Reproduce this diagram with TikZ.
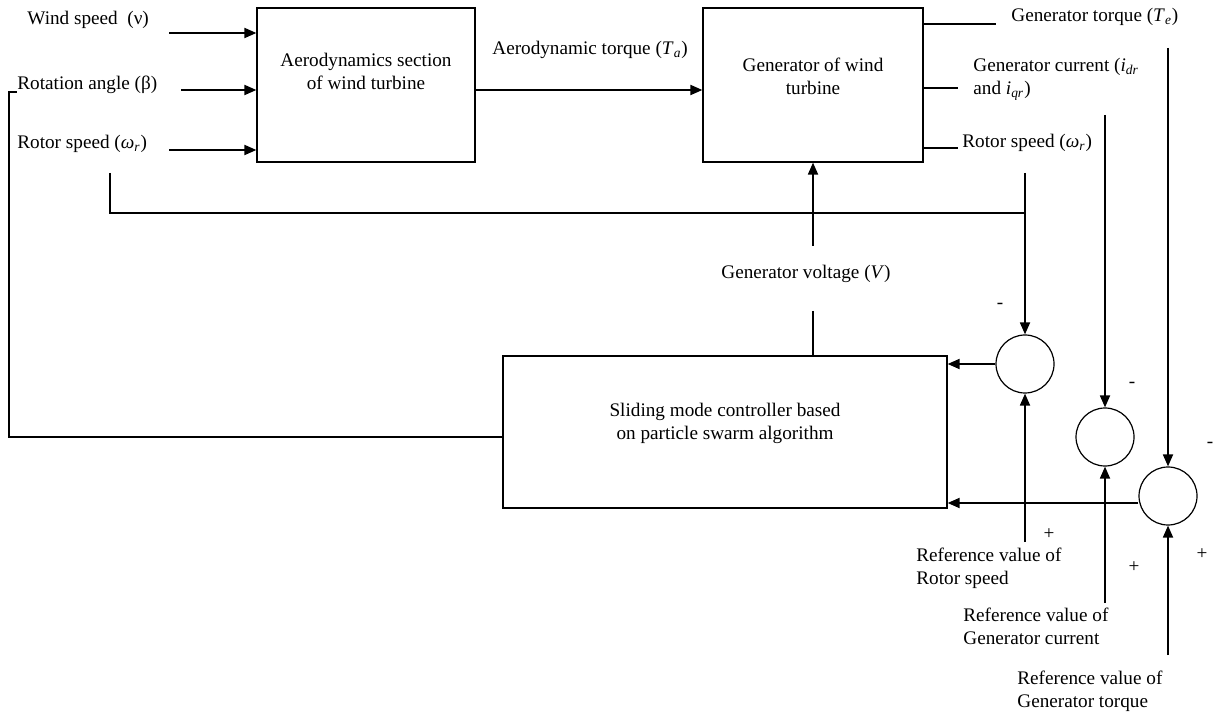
\documentclass[tikz,border=0pt]{standalone}
\usepackage{fontspec}
\setmainfont{Liberation Serif}
\usetikzlibrary{positioning, arrows.meta}

\newcommand{\vsub}[2]{\textit{#1}\textsubscript{\textit{#2}}}

\begin{document}
\begin{tikzpicture}[x=0.5pt, y=-0.5pt, font=\fontsize{9.6}{11.5}\selectfont,
    every block/.style={draw, line width=0.6pt, inner sep=0pt},
    every sum/.style={circle, draw, line width=0.6pt, minimum size=29pt, inner sep=0pt},
    sig/.style={line width=0.9pt},
    arr/.style={sig, -{Triangle[length=6pt, width=5pt]}},
    lbl/.style={inner sep=0pt, align=left, anchor=base west},
    txt/.style={inner sep=0pt, align=center, anchor=base}]

    \useasboundingbox (0,0) rectangle (1219,715);

    % Blocks (text anchored at the baseline of its last line)
    \node[every block, minimum width=109pt, minimum height=77pt] (A) at (366,85) {};
    \node[every block, minimum width=110pt, minimum height=77pt] (B) at (813,85) {};
    \node[every block, minimum width=222pt, minimum height=76pt] (C) at (725,432) {};
    \node[txt] (A-t) at (366,90) {Aerodynamics section\\of wind turbine};
    \node[txt] (B-t) at (813,95) {Generator of wind\\turbine};
    \node[txt] (C-t) at (725,439) {Sliding mode controller based\\on particle swarm algorithm};

    % Summing junctions
    \node[every sum] (S1) at (1025,364) {};
    \node[every sum] (S2) at (1105,437) {};
    \node[every sum] (S3) at (1168,496) {};

    % Inputs of the aerodynamics section
    \node[lbl] (L-wind) at (27,25) {Wind speed \ (ν)};
    \node[lbl] (L-beta) at (17,90) {Rotation angle (β)};
    \node[lbl] (L-rot) at (17,149) {Rotor speed (\vsub{ω}{r})};
    \coordinate (in-1) at (169,33);
    \coordinate (in-2) at (181,90);
    \coordinate (in-3) at (169,150);
    \foreach \i in {1, 2, 3}
        \draw[arr] (in-\i) -- (in-\i -| A.west);

    % Aerodynamic torque
    \node[lbl] (L-Ta) at (492,55) {Aerodynamic torque (\vsub{T}{a})};
    \draw[arr] ([yshift=-2.5pt]A.east) -- ([yshift=-2.5pt]B.west);

    % Outputs of the generator
    \node[lbl] (L-Te) at (1011,22) {Generator torque (\vsub{T}{e})};
    \node[lbl] (L-i) at (973,95) {Generator current (\vsub{i}{dr}\\and \vsub{i}{qr})};
    \node[lbl] (L-wr) at (962,148) {Rotor speed (\vsub{ω}{r})};
    \draw[sig] ([yshift=-8.5pt]B.north east) -- ++(72,0);
    \draw[sig] ([yshift=-40.5pt]B.north east) -- ++(34,0);
    \draw[sig] ([yshift=-70.5pt]B.north east) -- ++(34,0);

    % Feedback of rotor speed
    \coordinate (fb-0) at (110,173);
    \coordinate (fb-1) at (110,213);
    \coordinate (fb-2) at (1025,213);
    \coordinate (fb-3) at (1025,173);
    \draw[sig] (fb-0) -- (fb-1) -- (fb-2);
    \draw[arr] (fb-3) -- (S1.north);

    % Measured current and torque
    \coordinate (meas-i) at (1105,115);
    \coordinate (meas-T) at (1168,48);
    \draw[arr] (meas-i) -- (S2.north);
    \draw[arr] (meas-T) -- (S3.north);

    % Generator voltage
    \node[txt] (L-V) at (806,279) {Generator voltage (\textit{V})};
    \coordinate (V-0) at (813,246);
    \coordinate (V-1) at (813,311);
    \draw[arr] (V-0) -- (B.south);
    \draw[sig] (V-1) -- (V-1 |- C.north);

    % Rotation angle from controller
    \coordinate (ang-0) at (9,437);
    \coordinate (ang-1) at (9,92);
    \coordinate (ang-2) at (17,92);
    \draw[sig] ([yshift=-2.5pt]C.west) -- (ang-0) -- (ang-1) -- (ang-2);

    % Errors into controller
    \draw[arr] (S1.west) -- (S1.west -| C.east);
    \draw[arr] ([yshift=-3.5pt]S3.west) -- ([yshift=-3.5pt]S3.west -| C.east);

    % Reference values
    \coordinate (ref-1) at (1025,542);
    \coordinate (ref-2) at (1105,603);
    \coordinate (ref-3) at (1168,655);
    \draw[arr] (ref-1) -- (S1.south);
    \draw[arr] (ref-2) -- (S2.south);
    \draw[arr] (ref-3) -- (S3.south);
    \node[lbl] (L-ref1) at (916,584) {Reference value of\\Rotor speed};
    \node[lbl] (L-ref2) at (963,644) {Reference value of\\Generator current};
    \node[lbl] (L-ref3) at (1017,707) {Reference value of\\Generator torque};

    % Signs
    \node (m-1) at (1000,306) {-};
    \node (m-2) at (1132,385) {-};
    \node (m-3) at (1210,445) {-};
    \node (p-1) at (1049,534) {+};
    \node (p-2) at (1134,567) {+};
    \node (p-3) at (1202,554) {+};

\end{tikzpicture}
\end{document}
